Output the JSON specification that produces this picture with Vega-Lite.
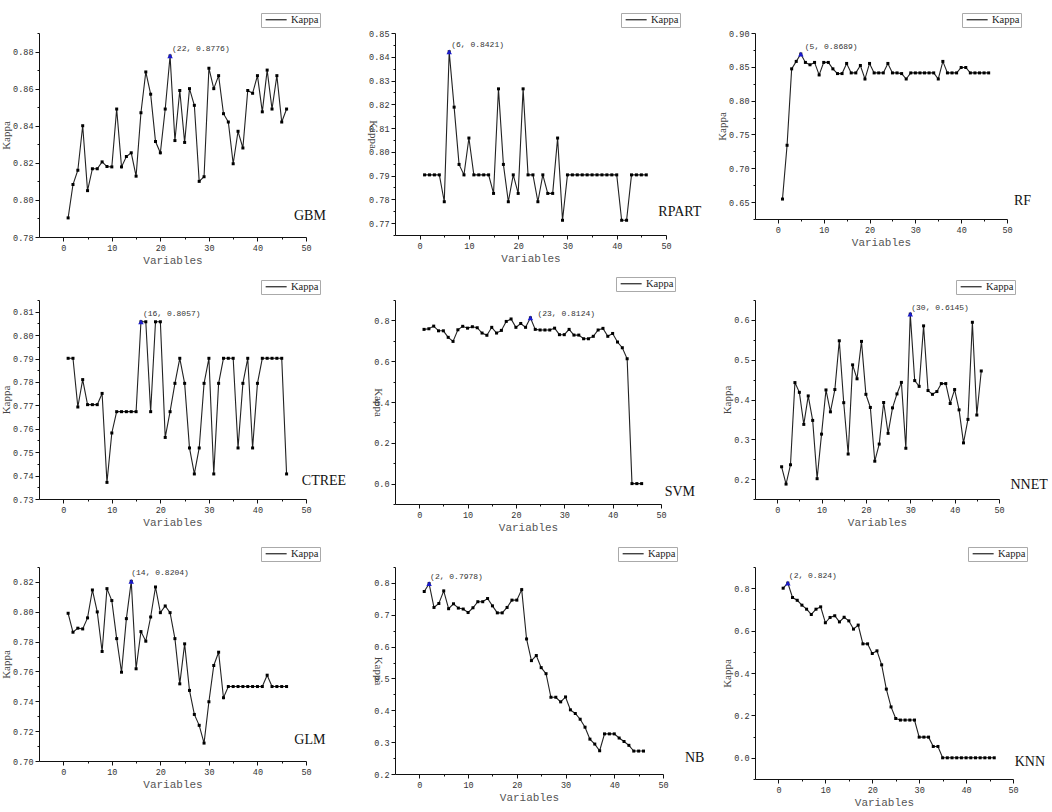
{
"$schema": "https://vega.github.io/schema/vega-lite/v6.json",
"padding": {"left": 0, "top": 12, "right": 0, "bottom": 0},
"background": "white",
"config": {
  "view": {"stroke": null},
  "axis": {"grid": false, "domainColor": "#111", "domainWidth": 1, "tickColor": "#111", "tickWidth": 1, "labelFont": "Liberation Mono", "labelFontSize": 8.5, "labelColor": "#333", "labelPadding": 2, "labelOverlap": false, "labelFlush": false, "titleFontWeight": "normal"},
  "axisX": {"titleFont": "Liberation Mono", "titleFontSize": 11, "titleColor": "#555", "titlePadding": 3},
  "axisY": {"titleFont": "Liberation Serif", "titleFontSize": 11, "titleColor": "#444", "titlePadding": 1},
  "legend": {"orient": "none", "title": null, "symbolType": "M-0.6,0H5.4", "symbolSize": 49, "symbolStrokeWidth": 1.2, "labelOffset": 18, "strokeColor": "#aaa", "fillColor": "white", "padding": 1.5, "labelFont": "Liberation Serif", "labelFontSize": 10.5, "labelColor": "#222", "legendY": -20}
},
"datasets": {
"peaks": [
{"model":"GBM","n":22,"kappa":0.8776,"label":"(22, 0.8776)"},
{"model":"RPART","n":6,"kappa":0.8421,"label":"(6, 0.8421)"},
{"model":"RF","n":5,"kappa":0.8689,"label":"(5, 0.8689)"},
{"model":"CTREE","n":16,"kappa":0.8057,"label":"(16, 0.8057)"},
{"model":"SVM","n":23,"kappa":0.8124,"label":"(23, 0.8124)"},
{"model":"NNET","n":30,"kappa":0.6145,"label":"(30, 0.6145)"},
{"model":"GLM","n":14,"kappa":0.8204,"label":"(14, 0.8204)"},
{"model":"NB","n":2,"kappa":0.7978,"label":"(2, 0.7978)"},
{"model":"KNN","n":2,"kappa":0.824,"label":"(2, 0.824)"}
],
"kappa": [
{"model":"GBM","n":1,"kappa":0.7903},{"model":"GBM","n":2,"kappa":0.8083},{"model":"GBM","n":3,"kappa":0.816},{"model":"GBM","n":4,"kappa":0.84},{"model":"GBM","n":5,"kappa":0.805},{"model":"GBM","n":6,"kappa":0.8168},{"model":"GBM","n":7,"kappa":0.8168},{"model":"GBM","n":8,"kappa":0.8205},{"model":"GBM","n":9,"kappa":0.818},{"model":"GBM","n":10,"kappa":0.8178},
{"model":"GBM","n":11,"kappa":0.849},{"model":"GBM","n":12,"kappa":0.8178},{"model":"GBM","n":13,"kappa":0.8234},{"model":"GBM","n":14,"kappa":0.8254},{"model":"GBM","n":15,"kappa":0.8128},{"model":"GBM","n":16,"kappa":0.847},{"model":"GBM","n":17,"kappa":0.869},{"model":"GBM","n":18,"kappa":0.857},{"model":"GBM","n":19,"kappa":0.8315},{"model":"GBM","n":20,"kappa":0.8254},
{"model":"GBM","n":21,"kappa":0.849},{"model":"GBM","n":22,"kappa":0.8776},{"model":"GBM","n":23,"kappa":0.832},{"model":"GBM","n":24,"kappa":0.859},{"model":"GBM","n":25,"kappa":0.831},{"model":"GBM","n":26,"kappa":0.86},{"model":"GBM","n":27,"kappa":0.851},{"model":"GBM","n":28,"kappa":0.81},{"model":"GBM","n":29,"kappa":0.8125},{"model":"GBM","n":30,"kappa":0.871},
{"model":"GBM","n":31,"kappa":0.86},{"model":"GBM","n":32,"kappa":0.867},{"model":"GBM","n":33,"kappa":0.8465},{"model":"GBM","n":34,"kappa":0.842},{"model":"GBM","n":35,"kappa":0.8195},{"model":"GBM","n":36,"kappa":0.837},{"model":"GBM","n":37,"kappa":0.828},{"model":"GBM","n":38,"kappa":0.859},{"model":"GBM","n":39,"kappa":0.8575},{"model":"GBM","n":40,"kappa":0.867},
{"model":"GBM","n":41,"kappa":0.8475},{"model":"GBM","n":42,"kappa":0.87},{"model":"GBM","n":43,"kappa":0.849},{"model":"GBM","n":44,"kappa":0.867},{"model":"GBM","n":45,"kappa":0.842},{"model":"GBM","n":46,"kappa":0.849},

{"model":"RPART","n":1,"kappa":0.7903},{"model":"RPART","n":2,"kappa":0.7903},{"model":"RPART","n":3,"kappa":0.7903},{"model":"RPART","n":4,"kappa":0.7903},{"model":"RPART","n":5,"kappa":0.779},{"model":"RPART","n":6,"kappa":0.8421},{"model":"RPART","n":7,"kappa":0.8188},{"model":"RPART","n":8,"kappa":0.7947},{"model":"RPART","n":9,"kappa":0.7903},{"model":"RPART","n":10,"kappa":0.8058},
{"model":"RPART","n":11,"kappa":0.7903},{"model":"RPART","n":12,"kappa":0.7903},{"model":"RPART","n":13,"kappa":0.7903},{"model":"RPART","n":14,"kappa":0.7903},{"model":"RPART","n":15,"kappa":0.7825},{"model":"RPART","n":16,"kappa":0.8265},{"model":"RPART","n":17,"kappa":0.7947},{"model":"RPART","n":18,"kappa":0.779},{"model":"RPART","n":19,"kappa":0.7903},{"model":"RPART","n":20,"kappa":0.7825},
{"model":"RPART","n":21,"kappa":0.8265},{"model":"RPART","n":22,"kappa":0.7903},{"model":"RPART","n":23,"kappa":0.7903},{"model":"RPART","n":24,"kappa":0.779},{"model":"RPART","n":25,"kappa":0.7903},{"model":"RPART","n":26,"kappa":0.7825},{"model":"RPART","n":27,"kappa":0.7825},{"model":"RPART","n":28,"kappa":0.8058},{"model":"RPART","n":29,"kappa":0.7712},{"model":"RPART","n":30,"kappa":0.7903},
{"model":"RPART","n":31,"kappa":0.7903},{"model":"RPART","n":32,"kappa":0.7903},{"model":"RPART","n":33,"kappa":0.7903},{"model":"RPART","n":34,"kappa":0.7903},{"model":"RPART","n":35,"kappa":0.7903},{"model":"RPART","n":36,"kappa":0.7903},{"model":"RPART","n":37,"kappa":0.7903},{"model":"RPART","n":38,"kappa":0.7903},{"model":"RPART","n":39,"kappa":0.7903},{"model":"RPART","n":40,"kappa":0.7903},
{"model":"RPART","n":41,"kappa":0.7712},{"model":"RPART","n":42,"kappa":0.7712},{"model":"RPART","n":43,"kappa":0.7903},{"model":"RPART","n":44,"kappa":0.7903},{"model":"RPART","n":45,"kappa":0.7903},{"model":"RPART","n":46,"kappa":0.7903},

{"model":"RF","n":1,"kappa":0.6545},{"model":"RF","n":2,"kappa":0.734},{"model":"RF","n":3,"kappa":0.847},{"model":"RF","n":4,"kappa":0.858},{"model":"RF","n":5,"kappa":0.8689},{"model":"RF","n":6,"kappa":0.8565},{"model":"RF","n":7,"kappa":0.853},{"model":"RF","n":8,"kappa":0.8565},{"model":"RF","n":9,"kappa":0.838},{"model":"RF","n":10,"kappa":0.8565},
{"model":"RF","n":11,"kappa":0.8565},{"model":"RF","n":12,"kappa":0.847},{"model":"RF","n":13,"kappa":0.84},{"model":"RF","n":14,"kappa":0.84},{"model":"RF","n":15,"kappa":0.855},{"model":"RF","n":16,"kappa":0.841},{"model":"RF","n":17,"kappa":0.841},{"model":"RF","n":18,"kappa":0.852},{"model":"RF","n":19,"kappa":0.832},{"model":"RF","n":20,"kappa":0.855},
{"model":"RF","n":21,"kappa":0.841},{"model":"RF","n":22,"kappa":0.841},{"model":"RF","n":23,"kappa":0.841},{"model":"RF","n":24,"kappa":0.855},{"model":"RF","n":25,"kappa":0.841},{"model":"RF","n":26,"kappa":0.841},{"model":"RF","n":27,"kappa":0.84},{"model":"RF","n":28,"kappa":0.832},{"model":"RF","n":29,"kappa":0.841},{"model":"RF","n":30,"kappa":0.841},
{"model":"RF","n":31,"kappa":0.841},{"model":"RF","n":32,"kappa":0.841},{"model":"RF","n":33,"kappa":0.841},{"model":"RF","n":34,"kappa":0.841},{"model":"RF","n":35,"kappa":0.832},{"model":"RF","n":36,"kappa":0.858},{"model":"RF","n":37,"kappa":0.841},{"model":"RF","n":38,"kappa":0.841},{"model":"RF","n":39,"kappa":0.841},{"model":"RF","n":40,"kappa":0.849},
{"model":"RF","n":41,"kappa":0.849},{"model":"RF","n":42,"kappa":0.841},{"model":"RF","n":43,"kappa":0.841},{"model":"RF","n":44,"kappa":0.841},{"model":"RF","n":45,"kappa":0.841},{"model":"RF","n":46,"kappa":0.841},

{"model":"CTREE","n":1,"kappa":0.7901},{"model":"CTREE","n":2,"kappa":0.7901},{"model":"CTREE","n":3,"kappa":0.7693},{"model":"CTREE","n":4,"kappa":0.781},{"model":"CTREE","n":5,"kappa":0.7703},{"model":"CTREE","n":6,"kappa":0.7703},{"model":"CTREE","n":7,"kappa":0.7703},{"model":"CTREE","n":8,"kappa":0.7751},{"model":"CTREE","n":9,"kappa":0.7371},{"model":"CTREE","n":10,"kappa":0.7582},
{"model":"CTREE","n":11,"kappa":0.7673},{"model":"CTREE","n":12,"kappa":0.7673},{"model":"CTREE","n":13,"kappa":0.7673},{"model":"CTREE","n":14,"kappa":0.7673},{"model":"CTREE","n":15,"kappa":0.7673},{"model":"CTREE","n":16,"kappa":0.8057},{"model":"CTREE","n":17,"kappa":0.8057},{"model":"CTREE","n":18,"kappa":0.7673},{"model":"CTREE","n":19,"kappa":0.8057},{"model":"CTREE","n":20,"kappa":0.8057},
{"model":"CTREE","n":21,"kappa":0.7563},{"model":"CTREE","n":22,"kappa":0.7673},{"model":"CTREE","n":23,"kappa":0.7794},{"model":"CTREE","n":24,"kappa":0.7901},{"model":"CTREE","n":25,"kappa":0.7794},{"model":"CTREE","n":26,"kappa":0.7518},{"model":"CTREE","n":27,"kappa":0.7407},{"model":"CTREE","n":28,"kappa":0.7518},{"model":"CTREE","n":29,"kappa":0.7794},{"model":"CTREE","n":30,"kappa":0.7901},
{"model":"CTREE","n":31,"kappa":0.7407},{"model":"CTREE","n":32,"kappa":0.7794},{"model":"CTREE","n":33,"kappa":0.7901},{"model":"CTREE","n":34,"kappa":0.7901},{"model":"CTREE","n":35,"kappa":0.7901},{"model":"CTREE","n":36,"kappa":0.7518},{"model":"CTREE","n":37,"kappa":0.7794},{"model":"CTREE","n":38,"kappa":0.7901},{"model":"CTREE","n":39,"kappa":0.7518},{"model":"CTREE","n":40,"kappa":0.7794},
{"model":"CTREE","n":41,"kappa":0.7901},{"model":"CTREE","n":42,"kappa":0.7901},{"model":"CTREE","n":43,"kappa":0.7901},{"model":"CTREE","n":44,"kappa":0.7901},{"model":"CTREE","n":45,"kappa":0.7901},{"model":"CTREE","n":46,"kappa":0.7407},

{"model":"SVM","n":1,"kappa":0.756},{"model":"SVM","n":2,"kappa":0.759},{"model":"SVM","n":3,"kappa":0.772},{"model":"SVM","n":4,"kappa":0.749},{"model":"SVM","n":5,"kappa":0.749},{"model":"SVM","n":6,"kappa":0.717},{"model":"SVM","n":7,"kappa":0.697},{"model":"SVM","n":8,"kappa":0.754},{"model":"SVM","n":9,"kappa":0.771},{"model":"SVM","n":10,"kappa":0.762},
{"model":"SVM","n":11,"kappa":0.769},{"model":"SVM","n":12,"kappa":0.764},{"model":"SVM","n":13,"kappa":0.738},{"model":"SVM","n":14,"kappa":0.727},{"model":"SVM","n":15,"kappa":0.766},{"model":"SVM","n":16,"kappa":0.738},{"model":"SVM","n":17,"kappa":0.751},{"model":"SVM","n":18,"kappa":0.795},{"model":"SVM","n":19,"kappa":0.807},{"model":"SVM","n":20,"kappa":0.766},
{"model":"SVM","n":21,"kappa":0.785},{"model":"SVM","n":22,"kappa":0.766},{"model":"SVM","n":23,"kappa":0.8124},{"model":"SVM","n":24,"kappa":0.756},{"model":"SVM","n":25,"kappa":0.753},{"model":"SVM","n":26,"kappa":0.753},{"model":"SVM","n":27,"kappa":0.753},{"model":"SVM","n":28,"kappa":0.762},{"model":"SVM","n":29,"kappa":0.73},{"model":"SVM","n":30,"kappa":0.73},
{"model":"SVM","n":31,"kappa":0.756},{"model":"SVM","n":32,"kappa":0.728},{"model":"SVM","n":33,"kappa":0.728},{"model":"SVM","n":34,"kappa":0.71},{"model":"SVM","n":35,"kappa":0.71},{"model":"SVM","n":36,"kappa":0.722},{"model":"SVM","n":37,"kappa":0.753},{"model":"SVM","n":38,"kappa":0.761},{"model":"SVM","n":39,"kappa":0.722},{"model":"SVM","n":40,"kappa":0.736},
{"model":"SVM","n":41,"kappa":0.694},{"model":"SVM","n":42,"kappa":0.666},{"model":"SVM","n":43,"kappa":0.612},{"model":"SVM","n":44,"kappa":0},{"model":"SVM","n":45,"kappa":0},{"model":"SVM","n":46,"kappa":0},

{"model":"NNET","n":1,"kappa":0.231},{"model":"NNET","n":2,"kappa":0.1875},{"model":"NNET","n":3,"kappa":0.236},{"model":"NNET","n":4,"kappa":0.4425},{"model":"NNET","n":5,"kappa":0.418},{"model":"NNET","n":6,"kappa":0.3375},{"model":"NNET","n":7,"kappa":0.409},{"model":"NNET","n":8,"kappa":0.3475},{"model":"NNET","n":9,"kappa":0.201},{"model":"NNET","n":10,"kappa":0.313},
{"model":"NNET","n":11,"kappa":0.424},{"model":"NNET","n":12,"kappa":0.369},{"model":"NNET","n":13,"kappa":0.425},{"model":"NNET","n":14,"kappa":0.5475},{"model":"NNET","n":15,"kappa":0.392},{"model":"NNET","n":16,"kappa":0.263},{"model":"NNET","n":17,"kappa":0.487},{"model":"NNET","n":18,"kappa":0.452},{"model":"NNET","n":19,"kappa":0.546},{"model":"NNET","n":20,"kappa":0.413},
{"model":"NNET","n":21,"kappa":0.38},{"model":"NNET","n":22,"kappa":0.245},{"model":"NNET","n":23,"kappa":0.288},{"model":"NNET","n":24,"kappa":0.3925},{"model":"NNET","n":25,"kappa":0.315},{"model":"NNET","n":26,"kappa":0.379},{"model":"NNET","n":27,"kappa":0.414},{"model":"NNET","n":28,"kappa":0.443},{"model":"NNET","n":29,"kappa":0.2775},{"model":"NNET","n":30,"kappa":0.6145},
{"model":"NNET","n":31,"kappa":0.4475},{"model":"NNET","n":32,"kappa":0.433},{"model":"NNET","n":33,"kappa":0.585},{"model":"NNET","n":34,"kappa":0.4225},{"model":"NNET","n":35,"kappa":0.413},{"model":"NNET","n":36,"kappa":0.42},{"model":"NNET","n":37,"kappa":0.44},{"model":"NNET","n":38,"kappa":0.44},{"model":"NNET","n":39,"kappa":0.39},{"model":"NNET","n":40,"kappa":0.425},
{"model":"NNET","n":41,"kappa":0.374},{"model":"NNET","n":42,"kappa":0.291},{"model":"NNET","n":43,"kappa":0.35},{"model":"NNET","n":44,"kappa":0.594},{"model":"NNET","n":45,"kappa":0.361},{"model":"NNET","n":46,"kappa":0.4717},

{"model":"GLM","n":1,"kappa":0.799},{"model":"GLM","n":2,"kappa":0.7863},{"model":"GLM","n":3,"kappa":0.789},{"model":"GLM","n":4,"kappa":0.7885},{"model":"GLM","n":5,"kappa":0.7959},{"model":"GLM","n":6,"kappa":0.8146},{"model":"GLM","n":7,"kappa":0.7999},{"model":"GLM","n":8,"kappa":0.7734},{"model":"GLM","n":9,"kappa":0.8155},{"model":"GLM","n":10,"kappa":0.8075},
{"model":"GLM","n":11,"kappa":0.782},{"model":"GLM","n":12,"kappa":0.7595},{"model":"GLM","n":13,"kappa":0.7954},{"model":"GLM","n":14,"kappa":0.8204},{"model":"GLM","n":15,"kappa":0.7618},{"model":"GLM","n":16,"kappa":0.7867},{"model":"GLM","n":17,"kappa":0.7803},{"model":"GLM","n":18,"kappa":0.7965},{"model":"GLM","n":19,"kappa":0.8166},{"model":"GLM","n":20,"kappa":0.7994},
{"model":"GLM","n":21,"kappa":0.8039},{"model":"GLM","n":22,"kappa":0.7994},{"model":"GLM","n":23,"kappa":0.782},{"model":"GLM","n":24,"kappa":0.7517},{"model":"GLM","n":25,"kappa":0.7785},{"model":"GLM","n":26,"kappa":0.7473},{"model":"GLM","n":27,"kappa":0.7312},{"model":"GLM","n":28,"kappa":0.7239},{"model":"GLM","n":29,"kappa":0.712},{"model":"GLM","n":30,"kappa":0.7397},
{"model":"GLM","n":31,"kappa":0.764},{"model":"GLM","n":32,"kappa":0.7729},{"model":"GLM","n":33,"kappa":0.7424},{"model":"GLM","n":34,"kappa":0.7499},{"model":"GLM","n":35,"kappa":0.7499},{"model":"GLM","n":36,"kappa":0.7499},{"model":"GLM","n":37,"kappa":0.7499},{"model":"GLM","n":38,"kappa":0.7499},{"model":"GLM","n":39,"kappa":0.7499},{"model":"GLM","n":40,"kappa":0.7499},
{"model":"GLM","n":41,"kappa":0.7499},{"model":"GLM","n":42,"kappa":0.7575},{"model":"GLM","n":43,"kappa":0.7499},{"model":"GLM","n":44,"kappa":0.7499},{"model":"GLM","n":45,"kappa":0.7499},{"model":"GLM","n":46,"kappa":0.7499},

{"model":"NB","n":1,"kappa":0.773},{"model":"NB","n":2,"kappa":0.7978},{"model":"NB","n":3,"kappa":0.723},{"model":"NB","n":4,"kappa":0.7355},{"model":"NB","n":5,"kappa":0.775},{"model":"NB","n":6,"kappa":0.719},{"model":"NB","n":7,"kappa":0.7345},{"model":"NB","n":8,"kappa":0.721},{"model":"NB","n":9,"kappa":0.718},{"model":"NB","n":10,"kappa":0.707},
{"model":"NB","n":11,"kappa":0.722},{"model":"NB","n":12,"kappa":0.741},{"model":"NB","n":13,"kappa":0.741},{"model":"NB","n":14,"kappa":0.751},{"model":"NB","n":15,"kappa":0.728},{"model":"NB","n":16,"kappa":0.706},{"model":"NB","n":17,"kappa":0.706},{"model":"NB","n":18,"kappa":0.723},{"model":"NB","n":19,"kappa":0.746},{"model":"NB","n":20,"kappa":0.746},
{"model":"NB","n":21,"kappa":0.779},{"model":"NB","n":22,"kappa":0.624},{"model":"NB","n":23,"kappa":0.556},{"model":"NB","n":24,"kappa":0.572},{"model":"NB","n":25,"kappa":0.534},{"model":"NB","n":26,"kappa":0.515},{"model":"NB","n":27,"kappa":0.441},{"model":"NB","n":28,"kappa":0.441},{"model":"NB","n":29,"kappa":0.4265},{"model":"NB","n":30,"kappa":0.442},
{"model":"NB","n":31,"kappa":0.4015},{"model":"NB","n":32,"kappa":0.39},{"model":"NB","n":33,"kappa":0.372},{"model":"NB","n":34,"kappa":0.347},{"model":"NB","n":35,"kappa":0.3095},{"model":"NB","n":36,"kappa":0.294},{"model":"NB","n":37,"kappa":0.273},{"model":"NB","n":38,"kappa":0.326},{"model":"NB","n":39,"kappa":0.326},{"model":"NB","n":40,"kappa":0.326},
{"model":"NB","n":41,"kappa":0.313},{"model":"NB","n":42,"kappa":0.302},{"model":"NB","n":43,"kappa":0.29},{"model":"NB","n":44,"kappa":0.272},{"model":"NB","n":45,"kappa":0.272},{"model":"NB","n":46,"kappa":0.272},

{"model":"KNN","n":1,"kappa":0.8},{"model":"KNN","n":2,"kappa":0.824},{"model":"KNN","n":3,"kappa":0.756},{"model":"KNN","n":4,"kappa":0.743},{"model":"KNN","n":5,"kappa":0.72},{"model":"KNN","n":6,"kappa":0.701},{"model":"KNN","n":7,"kappa":0.676},{"model":"KNN","n":8,"kappa":0.701},{"model":"KNN","n":9,"kappa":0.712},{"model":"KNN","n":10,"kappa":0.637},
{"model":"KNN","n":11,"kappa":0.662},{"model":"KNN","n":12,"kappa":0.67},{"model":"KNN","n":13,"kappa":0.641},{"model":"KNN","n":14,"kappa":0.663},{"model":"KNN","n":15,"kappa":0.646},{"model":"KNN","n":16,"kappa":0.607},{"model":"KNN","n":17,"kappa":0.626},{"model":"KNN","n":18,"kappa":0.5375},{"model":"KNN","n":19,"kappa":0.5375},{"model":"KNN","n":20,"kappa":0.492},
{"model":"KNN","n":21,"kappa":0.5045},{"model":"KNN","n":22,"kappa":0.4385},{"model":"KNN","n":23,"kappa":0.324},{"model":"KNN","n":24,"kappa":0.24},{"model":"KNN","n":25,"kappa":0.1855},{"model":"KNN","n":26,"kappa":0.178},{"model":"KNN","n":27,"kappa":0.178},{"model":"KNN","n":28,"kappa":0.178},{"model":"KNN","n":29,"kappa":0.178},{"model":"KNN","n":30,"kappa":0.0975},
{"model":"KNN","n":31,"kappa":0.0975},{"model":"KNN","n":32,"kappa":0.0975},{"model":"KNN","n":33,"kappa":0.0535},{"model":"KNN","n":34,"kappa":0.0535},{"model":"KNN","n":35,"kappa":0},{"model":"KNN","n":36,"kappa":0},{"model":"KNN","n":37,"kappa":0},{"model":"KNN","n":38,"kappa":0},{"model":"KNN","n":39,"kappa":0},{"model":"KNN","n":40,"kappa":0},
{"model":"KNN","n":41,"kappa":0},{"model":"KNN","n":42,"kappa":0},{"model":"KNN","n":43,"kappa":0},{"model":"KNN","n":44,"kappa":0},{"model":"KNN","n":45,"kappa":0},{"model":"KNN","n":46,"kappa":0}
]
},
"bounds": "flush",
"columns": 3,
"spacing": {"row": 63, "column": 89},
"resolve": {"scale": {"color": "independent"}, "legend": {"color": "independent"}},
"concat": [
{
 "width": 267, "height": 204,
 "encoding": {
  "x": {"field": "n", "type": "quantitative", "title": "Variables", "scale": {"domain": [-5, 50], "nice": false, "zero": false}, "axis": {"values": [0,5,10,15,20,25,30,35,40,45,50], "labelExpr": "datum.value % 10 == 0 ? datum.label : ''", "tickSize": {"condition": {"test": "datum.value % 10 != 0", "value": 2}, "value": 4}}},
  "y": {"field": "kappa", "type": "quantitative", "title": "Kappa", "scale": {"domain": [0.78, 0.89], "nice": false, "zero": false}, "axis": {"values": [0.78,0.79,0.8,0.81,0.82,0.83,0.84,0.85,0.86,0.87,0.88,0.89], "format": ".2f", "labelExpr": "round(datum.value*100) % 2 != 0 ? '' : datum.label", "tickSize": {"condition": {"test": "round(datum.value*100) % 2 != 0", "value": 2}, "value": 4}}}
 },
 "layer": [
  {"data": {"name": "kappa"}, "transform": [{"filter": "datum.model == 'GBM'"}], "mark": {"type": "line", "strokeWidth": 1.1}, "encoding": {"color": {"datum": "Kappa", "scale": {"range": ["#222"]}, "legend": {"legendX": 222}}}},
  {"data": {"name": "kappa"}, "transform": [{"filter": "datum.model == 'GBM'"}], "mark": {"type": "square", "size": 9, "color": "#000", "opacity": 1}},
  {"data": {"name": "peaks"}, "transform": [{"filter": "datum.model == 'GBM'"}], "mark": {"type": "point", "shape": "triangle-up", "filled": true, "size": 30, "color": "#1a1acc", "opacity": 1}},
  {"data": {"name": "peaks"}, "transform": [{"filter": "datum.model == 'GBM'"}], "mark": {"type": "text", "align": "left", "baseline": "middle", "dx": 2, "dy": -7, "font": "Liberation Mono", "fontSize": 8, "color": "#333"}, "encoding": {"text": {"field": "label"}}},
  {"data": {"name": "peaks"}, "transform": [{"filter": "datum.model == 'GBM'"}], "mark": {"type": "text", "align": "center", "baseline": "middle", "font": "Liberation Serif", "fontSize": 14, "color": "#111"}, "encoding": {"x": {"datum": 50.8, "type": "quantitative", "title": "Variables"}, "y": {"datum": 0.7913, "type": "quantitative", "title": "Kappa"}, "text": {"field": "model"}}}
 ]
},
{
 "width": 271, "height": 202,
 "encoding": {
  "x": {"field": "n", "type": "quantitative", "title": "Variables", "scale": {"domain": [-5, 50], "nice": false, "zero": false}, "axis": {"values": [0,5,10,15,20,25,30,35,40,45,50], "labelExpr": "datum.value % 10 == 0 ? datum.label : ''", "tickSize": {"condition": {"test": "datum.value % 10 != 0", "value": 2}, "value": 4}}},
  "y": {"field": "kappa", "type": "quantitative", "title": "Kappa", "scale": {"domain": [0.765, 0.85], "nice": false, "zero": false}, "axis": {"titleAngle": 90, "values": [0.765,0.77,0.775,0.78,0.785,0.79,0.795,0.8,0.805,0.81,0.815,0.82,0.825,0.83,0.835,0.84,0.845,0.85], "format": ".2f", "labelExpr": "round(datum.value*1000) % 10 != 0 ? '' : datum.label", "tickSize": {"condition": {"test": "round(datum.value*1000) % 10 != 0", "value": 2}, "value": 4}}}
 },
 "layer": [
  {"data": {"name": "kappa"}, "transform": [{"filter": "datum.model == 'RPART'"}], "mark": {"type": "line", "strokeWidth": 1.1}, "encoding": {"color": {"datum": "Kappa", "scale": {"range": ["#222"]}, "legend": {"legendX": 226}}}},
  {"data": {"name": "kappa"}, "transform": [{"filter": "datum.model == 'RPART'"}], "mark": {"type": "square", "size": 9, "color": "#000", "opacity": 1}},
  {"data": {"name": "peaks"}, "transform": [{"filter": "datum.model == 'RPART'"}], "mark": {"type": "point", "shape": "triangle-up", "filled": true, "size": 30, "color": "#1a1acc", "opacity": 1}},
  {"data": {"name": "peaks"}, "transform": [{"filter": "datum.model == 'RPART'"}], "mark": {"type": "text", "align": "left", "baseline": "middle", "dx": 2, "dy": -7, "font": "Liberation Mono", "fontSize": 8, "color": "#333"}, "encoding": {"text": {"field": "label"}}},
  {"data": {"name": "peaks"}, "transform": [{"filter": "datum.model == 'RPART'"}], "mark": {"type": "text", "align": "center", "baseline": "middle", "font": "Liberation Serif", "fontSize": 14, "color": "#111"}, "encoding": {"x": {"datum": 52.8, "type": "quantitative", "title": "Variables"}, "y": {"datum": 0.7745, "type": "quantitative", "title": "Kappa"}, "text": {"field": "model"}}}
 ]
},
{
 "width": 252, "height": 186,
 "encoding": {
  "x": {"field": "n", "type": "quantitative", "title": "Variables", "scale": {"domain": [-5, 50], "nice": false, "zero": false}, "axis": {"values": [0,5,10,15,20,25,30,35,40,45,50], "labelExpr": "datum.value % 10 == 0 ? datum.label : ''", "tickSize": {"condition": {"test": "datum.value % 10 != 0", "value": 2}, "value": 4}}},
  "y": {"field": "kappa", "type": "quantitative", "title": "Kappa", "scale": {"domain": [0.625, 0.9], "nice": false, "zero": false}, "axis": {"values": [0.625,0.65,0.675,0.7,0.725,0.75,0.775,0.8,0.825,0.85,0.875,0.9], "format": ".2f", "labelExpr": "round(datum.value*1000) % 50 != 0 ? '' : datum.label", "tickSize": {"condition": {"test": "round(datum.value*1000) % 50 != 0", "value": 2}, "value": 4}}}
 },
 "layer": [
  {"data": {"name": "kappa"}, "transform": [{"filter": "datum.model == 'RF'"}], "mark": {"type": "line", "strokeWidth": 1.1}, "encoding": {"color": {"datum": "Kappa", "scale": {"range": ["#222"]}, "legend": {"legendX": 207}}}},
  {"data": {"name": "kappa"}, "transform": [{"filter": "datum.model == 'RF'"}], "mark": {"type": "square", "size": 9, "color": "#000", "opacity": 1}},
  {"data": {"name": "peaks"}, "transform": [{"filter": "datum.model == 'RF'"}], "mark": {"type": "point", "shape": "triangle-up", "filled": true, "size": 30, "color": "#1a1acc", "opacity": 1}},
  {"data": {"name": "peaks"}, "transform": [{"filter": "datum.model == 'RF'"}], "mark": {"type": "text", "align": "left", "baseline": "middle", "dx": 4, "dy": -7, "font": "Liberation Mono", "fontSize": 8, "color": "#333"}, "encoding": {"text": {"field": "label"}}},
  {"data": {"name": "peaks"}, "transform": [{"filter": "datum.model == 'RF'"}], "mark": {"type": "text", "align": "center", "baseline": "middle", "font": "Liberation Serif", "fontSize": 14, "color": "#111"}, "encoding": {"x": {"datum": 53.4, "type": "quantitative", "title": "Variables"}, "y": {"datum": 0.6515, "type": "quantitative", "title": "Kappa"}, "text": {"field": "model"}}}
 ]
},
{
 "width": 267, "height": 199,
 "encoding": {
  "x": {"field": "n", "type": "quantitative", "title": "Variables", "scale": {"domain": [-5, 50], "nice": false, "zero": false}, "axis": {"values": [0,5,10,15,20,25,30,35,40,45,50], "labelExpr": "datum.value % 10 == 0 ? datum.label : ''", "tickSize": {"condition": {"test": "datum.value % 10 != 0", "value": 2}, "value": 4}}},
  "y": {"field": "kappa", "type": "quantitative", "title": "Kappa", "scale": {"domain": [0.73, 0.815], "nice": false, "zero": false}, "axis": {"values": [0.73,0.735,0.74,0.745,0.75,0.755,0.76,0.765,0.77,0.775,0.78,0.785,0.79,0.795,0.8,0.805,0.81,0.815], "format": ".2f", "labelExpr": "round(datum.value*1000) % 10 != 0 ? '' : datum.label", "tickSize": {"condition": {"test": "round(datum.value*1000) % 10 != 0", "value": 2}, "value": 4}}}
 },
 "layer": [
  {"data": {"name": "kappa"}, "transform": [{"filter": "datum.model == 'CTREE'"}], "mark": {"type": "line", "strokeWidth": 1.1}, "encoding": {"color": {"datum": "Kappa", "scale": {"range": ["#222"]}, "legend": {"legendX": 222}}}},
  {"data": {"name": "kappa"}, "transform": [{"filter": "datum.model == 'CTREE'"}], "mark": {"type": "square", "size": 9, "color": "#000", "opacity": 1}},
  {"data": {"name": "peaks"}, "transform": [{"filter": "datum.model == 'CTREE'"}], "mark": {"type": "point", "shape": "triangle-up", "filled": true, "size": 30, "color": "#1a1acc", "opacity": 1}},
  {"data": {"name": "peaks"}, "transform": [{"filter": "datum.model == 'CTREE'"}], "mark": {"type": "text", "align": "left", "baseline": "middle", "dx": 2, "dy": -8, "font": "Liberation Mono", "fontSize": 8, "color": "#333"}, "encoding": {"text": {"field": "label"}}},
  {"data": {"name": "peaks"}, "transform": [{"filter": "datum.model == 'CTREE'"}], "mark": {"type": "text", "align": "center", "baseline": "middle", "font": "Liberation Serif", "fontSize": 14, "color": "#111"}, "encoding": {"x": {"datum": 53.7, "type": "quantitative", "title": "Variables"}, "y": {"datum": 0.7378, "type": "quantitative", "title": "Kappa"}, "text": {"field": "model"}}}
 ]
},
{
 "width": 266, "height": 204,
 "encoding": {
  "x": {"field": "n", "type": "quantitative", "title": "Variables", "scale": {"domain": [-5, 50], "nice": false, "zero": false}, "axis": {"values": [0,5,10,15,20,25,30,35,40,45,50], "labelExpr": "datum.value % 10 == 0 ? datum.label : ''", "tickSize": {"condition": {"test": "datum.value % 10 != 0", "value": 2}, "value": 4}}},
  "y": {"field": "kappa", "type": "quantitative", "title": "Kappa", "scale": {"domain": [-0.1, 0.9], "nice": false, "zero": false}, "axis": {"titleAngle": 90, "values": [-0.1,0,0.1,0.2,0.3,0.4,0.5,0.6,0.7,0.8,0.9], "format": ".1f", "labelExpr": "round(datum.value*10) % 2 != 0 ? '' : datum.label", "tickSize": {"condition": {"test": "round(datum.value*10) % 2 != 0", "value": 2}, "value": 4}}}
 },
 "layer": [
  {"data": {"name": "kappa"}, "transform": [{"filter": "datum.model == 'SVM'"}], "mark": {"type": "line", "strokeWidth": 1.1}, "encoding": {"color": {"datum": "Kappa", "scale": {"range": ["#222"]}, "legend": {"legendX": 221, "legendY": -23}}}},
  {"data": {"name": "kappa"}, "transform": [{"filter": "datum.model == 'SVM'"}], "mark": {"type": "square", "size": 9, "color": "#000", "opacity": 1}},
  {"data": {"name": "peaks"}, "transform": [{"filter": "datum.model == 'SVM'"}], "mark": {"type": "point", "shape": "triangle-up", "filled": true, "size": 30, "color": "#1a1acc", "opacity": 1}},
  {"data": {"name": "peaks"}, "transform": [{"filter": "datum.model == 'SVM'"}], "mark": {"type": "text", "align": "left", "baseline": "middle", "dx": 7, "dy": -4, "font": "Liberation Mono", "fontSize": 8, "color": "#333"}, "encoding": {"text": {"field": "label"}}},
  {"data": {"name": "peaks"}, "transform": [{"filter": "datum.model == 'SVM'"}], "mark": {"type": "text", "align": "center", "baseline": "middle", "font": "Liberation Serif", "fontSize": 14, "color": "#111"}, "encoding": {"x": {"datum": 53.9, "type": "quantitative", "title": "Variables"}, "y": {"datum": -0.041, "type": "quantitative", "title": "Kappa"}, "text": {"field": "model"}}}
 ]
},
{
 "width": 244, "height": 199,
 "encoding": {
  "x": {"field": "n", "type": "quantitative", "title": "Variables", "scale": {"domain": [-5, 50], "nice": false, "zero": false}, "axis": {"values": [0,5,10,15,20,25,30,35,40,45,50], "labelExpr": "datum.value % 10 == 0 ? datum.label : ''", "tickSize": {"condition": {"test": "datum.value % 10 != 0", "value": 2}, "value": 4}}},
  "y": {"field": "kappa", "type": "quantitative", "title": "Kappa", "scale": {"domain": [0.15, 0.65], "nice": false, "zero": false}, "axis": {"values": [0.15,0.2,0.25,0.3,0.35,0.4,0.45,0.5,0.55,0.6,0.65], "format": ".1f", "labelExpr": "round(datum.value*100) % 10 != 0 ? '' : datum.label", "tickSize": {"condition": {"test": "round(datum.value*100) % 10 != 0", "value": 2}, "value": 4}}}
 },
 "layer": [
  {"data": {"name": "kappa"}, "transform": [{"filter": "datum.model == 'NNET'"}], "mark": {"type": "line", "strokeWidth": 1.1}, "encoding": {"color": {"datum": "Kappa", "scale": {"range": ["#222"]}, "legend": {"legendX": 201}}}},
  {"data": {"name": "kappa"}, "transform": [{"filter": "datum.model == 'NNET'"}], "mark": {"type": "square", "size": 9, "color": "#000", "opacity": 1}},
  {"data": {"name": "peaks"}, "transform": [{"filter": "datum.model == 'NNET'"}], "mark": {"type": "point", "shape": "triangle-up", "filled": true, "size": 30, "color": "#1a1acc", "opacity": 1}},
  {"data": {"name": "peaks"}, "transform": [{"filter": "datum.model == 'NNET'"}], "mark": {"type": "text", "align": "left", "baseline": "middle", "dx": 1, "dy": -6, "font": "Liberation Mono", "fontSize": 8, "color": "#333"}, "encoding": {"text": {"field": "label"}}},
  {"data": {"name": "peaks"}, "transform": [{"filter": "datum.model == 'NNET'"}], "mark": {"type": "text", "align": "center", "baseline": "middle", "font": "Liberation Serif", "fontSize": 14, "color": "#111"}, "encoding": {"x": {"datum": 56.8, "type": "quantitative", "title": "Variables"}, "y": {"datum": 0.1858, "type": "quantitative", "title": "Kappa"}, "text": {"field": "model"}}}
 ]
},
{
 "width": 267, "height": 194,
 "encoding": {
  "x": {"field": "n", "type": "quantitative", "title": "Variables", "scale": {"domain": [-5, 50], "nice": false, "zero": false}, "axis": {"values": [0,5,10,15,20,25,30,35,40,45,50], "labelExpr": "datum.value % 10 == 0 ? datum.label : ''", "tickSize": {"condition": {"test": "datum.value % 10 != 0", "value": 2}, "value": 4}}},
  "y": {"field": "kappa", "type": "quantitative", "title": "Kappa", "scale": {"domain": [0.7, 0.83], "nice": false, "zero": false}, "axis": {"values": [0.7,0.71,0.72,0.73,0.74,0.75,0.76,0.77,0.78,0.79,0.8,0.81,0.82,0.83], "format": ".2f", "labelExpr": "round(datum.value*100) % 2 != 0 ? '' : datum.label", "tickSize": {"condition": {"test": "round(datum.value*100) % 2 != 0", "value": 2}, "value": 4}}}
 },
 "layer": [
  {"data": {"name": "kappa"}, "transform": [{"filter": "datum.model == 'GLM'"}], "mark": {"type": "line", "strokeWidth": 1.1}, "encoding": {"color": {"datum": "Kappa", "scale": {"range": ["#222"]}, "legend": {"legendX": 222}}}},
  {"data": {"name": "kappa"}, "transform": [{"filter": "datum.model == 'GLM'"}], "mark": {"type": "square", "size": 9, "color": "#000", "opacity": 1}},
  {"data": {"name": "peaks"}, "transform": [{"filter": "datum.model == 'GLM'"}], "mark": {"type": "point", "shape": "triangle-up", "filled": true, "size": 30, "color": "#1a1acc", "opacity": 1}},
  {"data": {"name": "peaks"}, "transform": [{"filter": "datum.model == 'GLM'"}], "mark": {"type": "text", "align": "left", "baseline": "middle", "dx": 0, "dy": -8, "font": "Liberation Mono", "fontSize": 8, "color": "#333"}, "encoding": {"text": {"field": "label"}}},
  {"data": {"name": "peaks"}, "transform": [{"filter": "datum.model == 'GLM'"}], "mark": {"type": "text", "align": "center", "baseline": "middle", "font": "Liberation Serif", "fontSize": 14, "color": "#111"}, "encoding": {"x": {"datum": 50.8, "type": "quantitative", "title": "Variables"}, "y": {"datum": 0.714, "type": "quantitative", "title": "Kappa"}, "text": {"field": "model"}}}
 ]
},
{
 "width": 268, "height": 207,
 "encoding": {
  "x": {"field": "n", "type": "quantitative", "title": "Variables", "scale": {"domain": [-5, 50], "nice": false, "zero": false}, "axis": {"values": [0,5,10,15,20,25,30,35,40,45,50], "labelExpr": "datum.value % 10 == 0 ? datum.label : ''", "tickSize": {"condition": {"test": "datum.value % 10 != 0", "value": 2}, "value": 4}}},
  "y": {"field": "kappa", "type": "quantitative", "title": "Kappa", "scale": {"domain": [0.2, 0.85], "nice": false, "zero": false}, "axis": {"titleAngle": 90, "values": [0.2,0.25,0.3,0.35,0.4,0.45,0.5,0.55,0.6,0.65,0.7,0.75,0.8,0.85], "format": ".1f", "labelExpr": "round(datum.value*100) % 10 != 0 ? '' : datum.label", "tickSize": {"condition": {"test": "round(datum.value*100) % 10 != 0", "value": 2}, "value": 4}}}
 },
 "layer": [
  {"data": {"name": "kappa"}, "transform": [{"filter": "datum.model == 'NB'"}], "mark": {"type": "line", "strokeWidth": 1.1}, "encoding": {"color": {"datum": "Kappa", "scale": {"range": ["#222"]}, "legend": {"legendX": 223}}}},
  {"data": {"name": "kappa"}, "transform": [{"filter": "datum.model == 'NB'"}], "mark": {"type": "square", "size": 9, "color": "#000", "opacity": 1}},
  {"data": {"name": "peaks"}, "transform": [{"filter": "datum.model == 'NB'"}], "mark": {"type": "point", "shape": "triangle-up", "filled": true, "size": 30, "color": "#1a1acc", "opacity": 1}},
  {"data": {"name": "peaks"}, "transform": [{"filter": "datum.model == 'NB'"}], "mark": {"type": "text", "align": "left", "baseline": "middle", "dx": 1, "dy": -7, "font": "Liberation Mono", "fontSize": 8, "color": "#333"}, "encoding": {"text": {"field": "label"}}},
  {"data": {"name": "peaks"}, "transform": [{"filter": "datum.model == 'NB'"}], "mark": {"type": "text", "align": "center", "baseline": "middle", "font": "Liberation Serif", "fontSize": 14, "color": "#111"}, "encoding": {"x": {"datum": 56.5, "type": "quantitative", "title": "Variables"}, "y": {"datum": 0.251, "type": "quantitative", "title": "Kappa"}, "text": {"field": "model"}}}
 ]
},
{
 "width": 258, "height": 212,
 "encoding": {
  "x": {"field": "n", "type": "quantitative", "title": "Variables", "scale": {"domain": [-5, 50], "nice": false, "zero": false}, "axis": {"values": [0,5,10,15,20,25,30,35,40,45,50], "labelExpr": "datum.value % 10 == 0 ? datum.label : ''", "tickSize": {"condition": {"test": "datum.value % 10 != 0", "value": 2}, "value": 4}}},
  "y": {"field": "kappa", "type": "quantitative", "title": "Kappa", "scale": {"domain": [-0.1, 0.9], "nice": false, "zero": false}, "axis": {"values": [-0.1,0,0.1,0.2,0.3,0.4,0.5,0.6,0.7,0.8,0.9], "format": ".1f", "labelExpr": "round(datum.value*10) % 2 != 0 ? '' : datum.label", "tickSize": {"condition": {"test": "round(datum.value*10) % 2 != 0", "value": 2}, "value": 4}}}
 },
 "layer": [
  {"data": {"name": "kappa"}, "transform": [{"filter": "datum.model == 'KNN'"}], "mark": {"type": "line", "strokeWidth": 1.1}, "encoding": {"color": {"datum": "Kappa", "scale": {"range": ["#222"]}, "legend": {"legendX": 213}}}},
  {"data": {"name": "kappa"}, "transform": [{"filter": "datum.model == 'KNN'"}], "mark": {"type": "square", "size": 9, "color": "#000", "opacity": 1}},
  {"data": {"name": "peaks"}, "transform": [{"filter": "datum.model == 'KNN'"}], "mark": {"type": "point", "shape": "triangle-up", "filled": true, "size": 30, "color": "#1a1acc", "opacity": 1}},
  {"data": {"name": "peaks"}, "transform": [{"filter": "datum.model == 'KNN'"}], "mark": {"type": "text", "align": "left", "baseline": "middle", "dx": 1, "dy": -7, "font": "Liberation Mono", "fontSize": 8, "color": "#333"}, "encoding": {"text": {"field": "label"}}},
  {"data": {"name": "peaks"}, "transform": [{"filter": "datum.model == 'KNN'"}], "mark": {"type": "text", "align": "center", "baseline": "middle", "font": "Liberation Serif", "fontSize": 14, "color": "#111"}, "encoding": {"x": {"datum": 53.6, "type": "quantitative", "title": "Variables"}, "y": {"datum": -0.022, "type": "quantitative", "title": "Kappa"}, "text": {"field": "model"}}}
 ]
}
]
}
